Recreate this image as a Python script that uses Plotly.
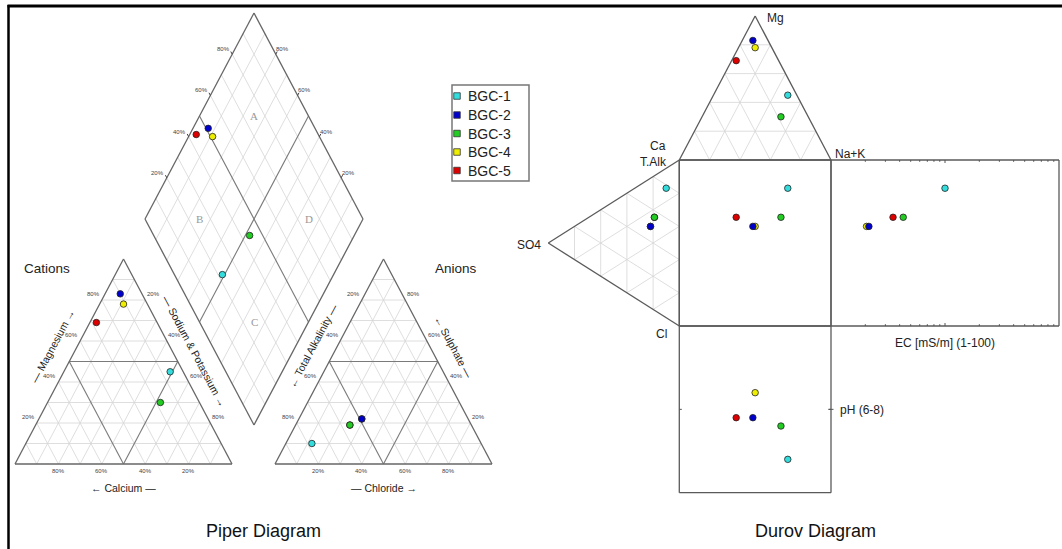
import numpy as np
import plotly.graph_objects as go

# ---------------- data ----------------
samples = ["BGC-1", "BGC-2", "BGC-3", "BGC-4", "BGC-5"]
colors = ["#33DDDD", "#0000CC", "#22CC22", "#EEEE00", "#DD0000"]

# cations (% meq)
ca_pct = [6, 10, 18, 11, 28]
mg_pct = [45, 83, 30, 78, 69]
nak_pct = [49, 7, 52, 11, 3]
# anions (% meq)
alk_pct = [78, 49, 56, 49, 56]
so4_pct = [10, 22, 19, 22, 19]
cl_pct = [12, 29, 25, 29, 25]
# field parameters
ec_ms_m = [10.0, 2.15, 4.3, 2.05, 3.5]
ph_val = [7.6, 7.1, 7.2, 6.8, 7.1]

pct_ticks = [20, 40, 60, 80]
ec_minor = [2, 3, 4, 5, 6, 7, 8, 9, 20, 30, 40, 50, 60, 70, 80, 90]
ec_major = [10]

# ---------------- geometry (pixel frame) ----------------
W, H = 1062, 549
CAT = [np.array(v, float) for v in [(15, 464), (232, 464), (123.5, 259)]]      # Ca, NaK, Mg
AN = [np.array(v, float) for v in [(275, 464), (492, 464), (383.5, 259)]]      # Alk, Cl, SO4
DB, DL, DR = np.array((254, 425.0)), np.array((145, 219.0)), np.array((363, 219.0))
DCAT = [np.array(v, float) for v in [(679.3, 160), (831, 160), (755.15, 16)]]  # Ca, NaK, Mg
DAN = [np.array(v, float) for v in [(679.3, 160), (679.3, 326), (548.3, 243)]]  # Alk, Cl, SO4
SQ_X0, SQ_X1, SQ_Y0, SQ_Y1 = 679.3, 831.0, 160.0, 326.0
PH_Y1 = 492.7
EC_X1 = 1059.0


def bary(V, w):
    w = np.asarray(w, float)
    w = w / w.sum()
    return w[0] * V[0] + w[1] * V[1] + w[2] * V[2]


def dia(p, q):
    return DB + p * (DL - DB) + q * (DR - DB)


def tri_grid(V, steps):
    segs = []
    for k in range(3):
        i, j = [m for m in range(3) if m != k]
        for f in steps:
            w1 = [0, 0, 0]; w1[k] = f; w1[i] = 1 - f
            w2 = [0, 0, 0]; w2[k] = f; w2[j] = 1 - f
            segs.append((bary(V, w1), bary(V, w2)))
    return segs


def seg_xy(segs):
    xs, ys = [], []
    for a, b in segs:
        xs += [a[0], b[0], None]
        ys += [a[1], b[1], None]
    return xs, ys


def poly(pts):
    pts = list(pts) + [pts[0]]
    return [(pts[k], pts[k + 1]) for k in range(len(pts) - 1)]


fig = go.Figure()


def add_lines(segs, color, width, xa="x", ya="y"):
    xs, ys = seg_xy(segs)
    fig.add_trace(go.Scatter(x=xs, y=ys, mode="lines", xaxis=xa, yaxis=ya,
                             line=dict(color=color, width=width),
                             hoverinfo="skip", showlegend=False))


GRID_C, MID_C, EDGE_C = "#d6d6d6", "#7a7a7a", "#666666"
steps10 = [i / 10 for i in range(1, 10) if i != 5]
steps20 = [0.2, 0.4, 0.6, 0.8]

# Piper triangles
for V in (CAT, AN):
    add_lines(tri_grid(V, steps10), GRID_C, 0.8)
    add_lines(tri_grid(V, [0.5]), MID_C, 1.1)
    add_lines(poly(V), EDGE_C, 1.3)

# Piper diamond
dsegs = []
for f in steps10:
    dsegs.append((dia(f, 0), dia(f, 1)))
    dsegs.append((dia(0, f), dia(1, f)))
add_lines(dsegs, GRID_C, 0.8)
add_lines([(dia(0.5, 0), dia(0.5, 1)), (dia(0, 0.5), dia(1, 0.5))], MID_C, 1.1)
add_lines(poly([dia(0, 0), dia(1, 0), dia(1, 1), dia(0, 1)]), EDGE_C, 1.3)

# small ticks at labelled positions
tk = []
for t in pct_ticks:
    f = t / 100
    tk.append((dia(1, f), dia(1, f) + 3 * (DL - DB) / np.linalg.norm(DL - DB)))
    tk.append((dia(f, 1), dia(f, 1) + 3 * (DR - DB) / np.linalg.norm(DR - DB)))
add_lines(tk, "#444", 1)

# Durov triangles
for V in (DCAT, DAN):
    add_lines(tri_grid(V, steps20), GRID_C, 0.8)
    add_lines(poly(V), "#5a5a5a", 1.3)
# Durov boxes
sq = [np.array(p) for p in [(SQ_X0, SQ_Y0), (SQ_X1, SQ_Y0), (SQ_X1, SQ_Y1), (SQ_X0, SQ_Y1)]]
phb = [np.array(p) for p in [(SQ_X0, SQ_Y1), (SQ_X1, SQ_Y1), (SQ_X1, PH_Y1), (SQ_X0, PH_Y1)]]
ecb = [np.array(p) for p in [(SQ_X1, SQ_Y0), (EC_X1, SQ_Y0), (EC_X1, SQ_Y1), (SQ_X1, SQ_Y1)]]
for b in (sq, phb, ecb):
    add_lines(poly(b), "#5a5a5a", 1.3)

# EC log-axis ticks (library log scale on xaxis2)
ex, ey = [], []
for v in ec_minor + ec_major:
    L = 3 if v in ec_major else 1.8
    ex += [v, v, None, v, v, None]
    ey += [SQ_Y0, SQ_Y0 + L, None, SQ_Y1, SQ_Y1 - L, None]
fig.add_trace(go.Scatter(x=ex, y=ey, mode="lines", xaxis="x2", yaxis="y",
                         line=dict(color="#555", width=1), hoverinfo="skip", showlegend=False))
# pH tick at 7
fig.add_trace(go.Scatter(x=[SQ_X0, SQ_X0 + 2.5, None, SQ_X1, SQ_X1 - 2.5, SQ_X1, SQ_X1 + 2.5],
                         y=[7, 7, None, 7, 7, 7, 7], mode="lines", xaxis="x", yaxis="y2",
                         line=dict(color="#555", width=1), hoverinfo="skip", showlegend=False))

# ---------------- sample points ----------------
order = [4, 3, 2, 1, 0]
for s in order:
    c = [ca_pct[s], nak_pct[s], mg_pct[s]]
    a = [alk_pct[s], cl_pct[s], so4_pct[s]]
    pc = bary(CAT, c)
    pa = bary(AN, a)
    pdm = dia(1 - nak_pct[s] / sum(c), 1 - alk_pct[s] / sum(a))
    dc = bary(DCAT, c)
    da = bary(DAN, a)
    xs = [pc[0], pa[0], pdm[0], dc[0], da[0], dc[0]]
    ys = [pc[1], pa[1], pdm[1], dc[1], da[1], da[1]]
    mk = dict(color=colors[s], size=6.5, line=dict(color="#222", width=0.8))
    fig.add_trace(go.Scatter(x=xs, y=ys, mode="markers", marker=mk, name=samples[s],
                             showlegend=False, hoverinfo="name"))
    fig.add_trace(go.Scatter(x=[ec_ms_m[s]], y=[da[1]], mode="markers", marker=mk,
                             xaxis="x2", yaxis="y", showlegend=False, name=samples[s]))
    fig.add_trace(go.Scatter(x=[dc[0]], y=[ph_val[s]], mode="markers", marker=mk,
                             xaxis="x", yaxis="y2", showlegend=False, name=samples[s]))

# ---------------- legend (drawn) ----------------
leg_y = [96, 115, 133.5, 152, 170.5]
fig.add_trace(go.Scatter(x=[457] * 5, y=leg_y, mode="markers",
                         marker=dict(symbol="square", size=6.5, color=colors,
                                     line=dict(color="#333", width=0.8)),
                         hoverinfo="skip", showlegend=False))

ann = []
FONT = "Liberation Sans, Arial, sans-serif"


def txt(x, y, t, size, color="#222", angle=0, xanchor="center", family=FONT):
    ann.append(dict(x=x, y=y, xref="x", yref="y", text=t, showarrow=False,
                    font=dict(size=size, color=color, family=family), textangle=angle,
                    xanchor=xanchor, yanchor="middle"))


for s in range(5):
    txt(466, leg_y[s], samples[s], 14, "#222", xanchor="left")

# tick labels
TL = 6
for t in pct_ticks:
    f = t / 100
    p = bary(CAT, [1 - f, 0, f]); txt(p[0] - 8.5, p[1] - 6, f"{t}%", TL, "#444")
    p = bary(CAT, [0, f, 1 - f]); txt(p[0] + 8, p[1] - 6, f"{t}%", TL, "#444")
    p = bary(CAT, [f, 1 - f, 0]); txt(p[0], p[1] + 7, f"{t}%", TL, "#444")
    p = bary(AN, [f, 0, 1 - f]); txt(p[0] - 8, p[1] - 6, f"{t}%", TL, "#444")
    p = bary(AN, [0, 1 - f, f]); txt(p[0] + 8, p[1] - 6, f"{t}%", TL, "#444")
    p = bary(AN, [1 - f, f, 0]); txt(p[0], p[1] + 7, f"{t}%", TL, "#444")
    p = dia(1, f); txt(p[0] - 9, p[1] - 5, f"{t}%", TL, "#444")
    p = dia(f, 1); txt(p[0] + 7, p[1] - 5, f"{t}%", TL, "#444")

# region letters
SERIF = "Liberation Serif, Times New Roman, serif"
for lab, (p, q) in {"A": (0.75, 0.75), "B": (0.75, 0.25), "C": (0.25, 0.25), "D": (0.25, 0.75)}.items():
    pt = dia(p, q)
    txt(pt[0], pt[1], lab, 11, "#999", family=SERIF)

# axis titles
txt(46.7, 268.5, "Cations", 13.5)
txt(455.8, 268.5, "Anions", 13.5)
txt(123.5, 487.5, "← Calcium —", 10.5)
txt(383.5, 487.5, "— Chloride →", 10.5)
txt(52.5, 346, "— Magnesium →", 10.5, angle=-62)
txt(194.5, 350.5, "— Sodium & Potassium →", 10.5, angle=62)
txt(312.5, 345.5, "← Total Alkalinity —", 10.5, angle=-62)
txt(454, 346.5, "← Sulphate —", 10.5, angle=62)

# Durov labels
txt(765, 17.5, "Mg", 12, xanchor="left")
txt(667.5, 146, "Ca", 12, xanchor="right")
txt(668.5, 162, "T.Alk", 12, xanchor="right")
txt(833, 154, "Na+K", 12, xanchor="left")
txt(543, 245, "SO4", 12, xanchor="right")
txt(668.5, 333.5, "Cl", 12, xanchor="right")
txt(945, 343, "EC [mS/m] (1-100)", 12)
txt(838, 410, "pH (6-8)", 12, xanchor="left")

# titles
txt(263.5, 531, "Piper Diagram", 18, "#111")
txt(815.5, 531, "Durov Diagram", 18, "#111")

shapes = [
    dict(type="line", xref="x", yref="y", x0=7.5, x1=W, y0=6, y1=6, line=dict(color="black", width=3)),
    dict(type="line", xref="x", yref="y", x0=8.5, x1=8.5, y0=5, y1=H, line=dict(color="black", width=2.5)),
    dict(type="rect", xref="x", yref="y", x0=452, x1=529, y0=85, y1=181, line=dict(color="#777", width=1.5)),
]

fig.update_layout(
    width=W, height=H, margin=dict(l=0, r=0, t=0, b=0),
    paper_bgcolor="white", plot_bgcolor="rgba(0,0,0,0)", showlegend=False,
    xaxis=dict(range=[0, W], visible=False, domain=[0, 1], fixedrange=True),
    yaxis=dict(range=[H, 0], visible=False, domain=[0, 1], fixedrange=True),
    xaxis2=dict(type="log", range=[0, 2], domain=[SQ_X1 / W, EC_X1 / W], anchor="y",
                visible=False, fixedrange=True),
    yaxis2=dict(range=[8, 6], domain=[(H - PH_Y1) / H, (H - SQ_Y1) / H], anchor="x",
                visible=False, fixedrange=True),
    annotations=ann, shapes=shapes,
)

fig.write_html("out.html", config={"displayModeBar": False},
               post_script="document.body.style.margin='0';document.body.style.overflow='hidden';")
